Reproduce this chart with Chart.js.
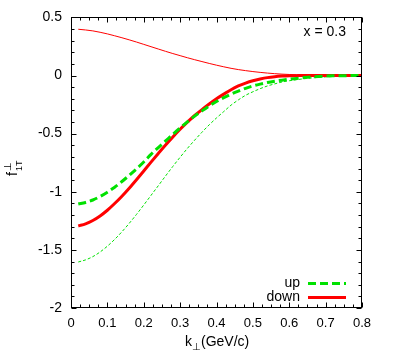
<!DOCTYPE html>
<html><head><meta charset="utf-8">
<script src="https://cdn.jsdelivr.net/npm/chart.js@4/dist/chart.umd.min.js"></script>
<style>html,body{margin:0;padding:0;background:#fff}#wrap{width:417px;height:354px}</style>
</head><body><div id="wrap"><canvas id="c" width="417" height="354"></canvas></div>
<script>
const kPerp = [0.02,0.04,0.06,0.08,0.10,0.12,0.14,0.16,0.18,0.20,
  0.22,0.24,0.26,0.28,0.30,0.32,0.34,0.36,0.38,0.40,
  0.42,0.44,0.46,0.48,0.50,0.52,0.54,0.56,0.58,0.60,
  0.62,0.64,0.66,0.68,0.70,0.72,0.74,0.76,0.78,0.80];
const upThick = [-1.106,-1.092,-1.071,-1.041,-1.004,-0.961,-0.912,-0.859,-0.803,-0.744,
  -0.678,-0.620,-0.563,-0.506,-0.451,-0.399,-0.349,-0.304,-0.262,-0.224,
  -0.190,-0.160,-0.134,-0.110,-0.090,-0.074,-0.060,-0.049,-0.040,-0.032,
  -0.025,-0.018,-0.012,-0.008,-0.005,-0.003,-0.002,-0.001,0,0];
const downThick = [-1.294,-1.276,-1.247,-1.208,-1.159,-1.101,-1.038,-0.969,-0.896,-0.821,
  -0.745,-0.671,-0.598,-0.528,-0.462,-0.401,-0.344,-0.293,-0.245,-0.200,
  -0.160,-0.122,-0.090,-0.065,-0.045,-0.030,-0.018,-0.010,-0.005,-0.002,
  -0.001,0,0,0,0,0,0,0,0,0];
const upThin = [-1.604,-1.586,-1.558,-1.518,-1.468,-1.410,-1.344,-1.272,-1.195,-1.114,
  -1.031,-0.948,-0.864,-0.782,-0.703,-0.627,-0.556,-0.488,-0.424,-0.365,
  -0.310,-0.255,-0.210,-0.170,-0.140,-0.113,-0.090,-0.072,-0.056,-0.045,
  -0.036,-0.028,-0.021,-0.016,-0.012,-0.009,-0.007,-0.005,-0.003,-0.002];
const downThin = [0.398,0.392,0.384,0.372,0.358,0.342,0.325,0.307,0.288,0.268,
  0.248,0.228,0.208,0.189,0.171,0.153,0.136,0.120,0.104,0.089,
  0.075,0.062,0.051,0.042,0.034,0.027,0.021,0.016,0.012,0.009,
  0.007,0.005,0.004,0.003,0.002,0.001,0.001,0,0,0];
const xTickValues = [0,0.1,0.2,0.3,0.4,0.5,0.6,0.7,0.8];
const xTickLabels = ['0','0.1','0.2','0.3','0.4','0.5','0.6','0.7','0.8'];
const yTickValues = [-2,-1.5,-1,-0.5,0,0.5];
const yTickLabels = ['-2','-1.5','-1','-0.5','0','0.5'];
const legendLabels = ['up','down'];
const annotationText = 'x = 0.3';

const GREEN = 'rgb(0,225,0)';
const RED = 'rgb(255,0,0)';
const FONT = '"Liberation Sans", Arial, Helvetica, sans-serif';

function pts(ys){ return kPerp.map((k,i)=>({x:k,y:ys[i]})); }

const frame = {
  id:'frame',
  afterDraw(chart){
    const ctx = chart.ctx, a = chart.chartArea;
    const xs = chart.scales.x, ys = chart.scales.y;
    ctx.save();
    ctx.strokeStyle = '#000'; ctx.lineWidth = 1;
    const L = Math.round(a.left)+0.5, R = Math.round(a.right)-0.5, T = Math.round(a.top)+0.5, B = Math.round(a.bottom)-0.5;
    ctx.strokeRect(L, T, R-L, B-T);
    ctx.beginPath();
    for (let i=0;i<=32;i++){
      const v = i*0.025; const major = (i%4===0);
      const len = major?5:3;
      const p = Math.round(xs.getPixelForValue(v))+0.5;
      ctx.moveTo(p,B); ctx.lineTo(p,B-len);
      ctx.moveTo(p,T); ctx.lineTo(p,T+len);
    }
    for (let i=0;i<=25;i++){
      const v = -2 + i*0.1; const major = (i%5===0);
      const len = major?5:3;
      const p = Math.round(ys.getPixelForValue(v))+0.5;
      ctx.moveTo(L,p); ctx.lineTo(L+len,p);
      ctx.moveTo(R,p); ctx.lineTo(R-len,p);
    }
    ctx.stroke();
    ctx.fillStyle = '#000';
    ctx.font = '14px '+FONT;
    ctx.textAlign = 'right'; ctx.textBaseline = 'middle';
    ctx.fillText(annotationText, 346, 32);
    const ds = chart.data.datasets;
    const legendY = [283, 297];
    [0,1].forEach(i=>{
      const d = ds[i];
      ctx.textAlign='right'; ctx.textBaseline='middle';
      ctx.fillStyle='#000';
      ctx.fillText(legendLabels[i], 300, legendY[i]);
      ctx.save();
      ctx.strokeStyle = d.borderColor; ctx.lineWidth = d.borderWidth;
      ctx.setLineDash(d.borderDash||[]);
      ctx.beginPath(); ctx.moveTo(308, legendY[i]+0.5); ctx.lineTo(346, legendY[i]+0.5); ctx.stroke();
      ctx.restore();
    });
    ctx.textAlign='left'; ctx.textBaseline='alphabetic';
    ctx.font = '14px '+FONT;
    ctx.fillText('k', 185, 346);
    ctx.font = '10px '+FONT;
    ctx.fillText('\u22A5', 192, 350);
    ctx.font = '14px '+FONT;
    ctx.fillText('(GeV/c)', 201, 346);
    ctx.save();
    ctx.translate(17, 176);
    ctx.rotate(-Math.PI/2);
    ctx.font = '14px '+FONT;
    ctx.fillText('f', 0, 0);
    ctx.font = '9px '+FONT;
    ctx.fillText('1T', 5, 5);
    ctx.font = '10px '+FONT;
    ctx.fillText('\u22A5', 5, -6);
    ctx.restore();
    ctx.restore();
  }
};

new Chart(document.getElementById('c'), {
  type:'line',
  data:{
    datasets:[
      {label:legendLabels[0], data:pts(upThick), borderColor:GREEN, borderWidth:3, borderDash:[8,4]},
      {label:legendLabels[1], data:pts(downThick), borderColor:RED, borderWidth:3},
      {label:'up (thin)', data:pts(upThin), borderColor:GREEN, borderWidth:1, borderDash:[3,2]},
      {label:'down (thin)', data:pts(downThin), borderColor:RED, borderWidth:1}
    ]
  },
  options:{
    responsive:false, animation:false, devicePixelRatio:1,
    parsing:false,
    elements:{point:{radius:0}, line:{cubicInterpolationMode:'monotone', fill:false}},
    layout:{padding:{top:16, right:55, left:0, bottom:0}},
    plugins:{legend:{display:false}, tooltip:{enabled:false}},
    scales:{
      x:{type:'linear', min:0, max:0.8,
        afterBuildTicks(s){ s.ticks = xTickValues.map(v=>({value:v})); },
        afterFit(s){ s.height = 46; },
        grid:{display:false, drawTicks:false}, border:{display:false},
        ticks:{padding:8, color:'#000', font:{family:FONT, size:13},
          callback:(v,i)=>xTickLabels[i]}},
      y:{type:'linear', min:-2, max:0.5,
        afterBuildTicks(s){ s.ticks = yTickValues.map(v=>({value:v})); },
        afterFit(s){ s.width = 71; },
        grid:{display:false, drawTicks:false}, border:{display:false},
        ticks:{padding:9, color:'#000', font:{family:FONT, size:14},
          callback:(v,i)=>yTickLabels[i]}}
    }
  },
  plugins:[frame]
});
</script></body></html>
